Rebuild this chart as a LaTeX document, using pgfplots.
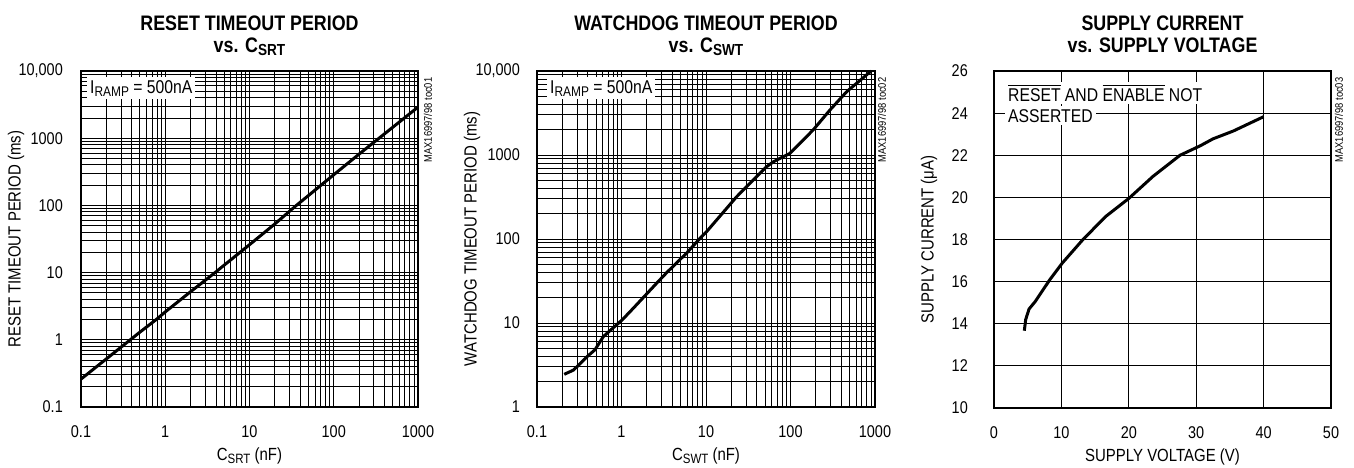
\documentclass[border=0pt]{standalone}
\usepackage{pgfplots}
\pgfplotsset{compat=1.18}
\usepackage{fontspec}
\setmainfont{Liberation Sans}[FakeStretch=0.85]
\newcommand\sub[2][13.5]{\raisebox{-3pt}{\fontsize{#1}{#1}\selectfont #2}}
\newcommand\ovl[1]{\setbox0\hbox{#1}\rlap{\raisebox{\dimexpr\ht0+2.5pt\relax}{\rule{\wd0}{0.9pt}}}\box0\relax}
\newcommand\tk{\fontsize{17}{17}\selectfont}
\newcommand\lb{\fontsize{17.6}{17.6}\selectfont}
\newcommand\an{\fontsize{18.5}{18.5}\selectfont}
\newcommand\ttl{\fontsize{21}{21}\selectfont\bfseries}
\newcommand\sm{\fontsize{11}{11}\selectfont}

\pgfplotsset{
  every axis/.append style={
    scale only axis, clip=false,
    axis line style={line width=2.6pt},
    major tick length=0pt, minor tick length=0pt,
    major grid style={black, line width=0.9pt},
    minor grid style={black, line width=0.9pt},
    xticklabel style={font=\tk, anchor=base, yshift=-30pt},
    yticklabel style={font=\tk, anchor=east, inner sep=0pt},
  },
}
\tikzset{mycurve/.style={black, line width=3pt, line join=round}}

\begin{document}
\begin{tikzpicture}
\useasboundingbox (0pt,0pt) rectangle (1354pt,467pt);

% ---------------- Panel 1 ----------------
\begin{axis}[xmode=log, ymode=log, grid=both,
  width=337pt, height=336pt, at={(81pt,60pt)}, anchor=south west,
  xmin=0.1, xmax=1000, ymin=0.1, ymax=10000,
  xtick={0.1,1,10,100,1000}, xticklabels={0.1,1,10,100,1000},
  minor xtick={0.2,0.3,0.4,0.5,0.6,0.7,0.8,0.9,2,3,4,5,6,7,8,9,20,30,40,50,60,70,80,90,200,300,400,500,600,700,800,900},
  ytick={0.1,1,10,100,1000,10000}, yticklabels={0.1,1,10,100,1000,{10,000}},
  minor ytick={0.2,0.3,0.4,0.5,0.6,0.7,0.8,0.9,2,3,4,5,6,7,8,9,20,30,40,50,60,70,80,90,200,300,400,500,600,700,800,900,2000,3000,4000,5000,6000,7000,8000,9000},
  yticklabel style={xshift=-18pt}]
\addplot[mycurve, no marks] coordinates {
(0.1,0.26) (0.2,0.52) (0.3,0.78) (0.5,1.3) (0.8,2.05) (1,2.6) (2,5.2) (3.9,10)
(5,12.9) (10,26) (20,53) (36,100) (50,140) (100,286) (200,580) (500,1450) (1000,2900)};
\node[anchor=north west, fill=white, inner sep=3pt, font=\an] at ([xshift=6pt,yshift=-6pt]rel axis cs:0,1) {I\sub[14]{RAMP} = 500nA};
\node[anchor=base, font=\ttl] at ([yshift=41pt]rel axis cs:0.5,1) {RESET TIMEOUT PERIOD};
\node[anchor=base, font=\ttl] at ([yshift=19pt]rel axis cs:0.5,1) {vs. C\sub[16]{SRT}};
\node[anchor=base, font=\lb] at ([yshift=-53pt]rel axis cs:0.5,0) {C\sub{SRT} (nF)};
\node[rotate=90, font=\lb] at ([xshift=-65pt]rel axis cs:0,0.5) {RESET TIMEOUT PERIOD (ms)};
\node[rotate=90, font=\sm] at ([xshift=10pt,yshift=-49pt]rel axis cs:1,1) {MAX16997/98 toc01};
\end{axis}

% ---------------- Panel 2 ----------------
\begin{axis}[xmode=log, ymode=log, grid=both,
  width=338pt, height=336pt, at={(537pt,60pt)}, anchor=south west,
  xmin=0.1, xmax=1000, ymin=1, ymax=10000,
  xtick={0.1,1,10,100,1000}, xticklabels={0.1,1,10,100,1000},
  minor xtick={0.2,0.3,0.4,0.5,0.6,0.7,0.8,0.9,2,3,4,5,6,7,8,9,20,30,40,50,60,70,80,90,200,300,400,500,600,700,800,900},
  ytick={1,10,100,1000,10000}, yticklabels={1,10,100,1000,{10,000}},
  minor ytick={2,3,4,5,6,7,8,9,20,30,40,50,60,70,80,90,200,300,400,500,600,700,800,900,2000,3000,4000,5000,6000,7000,8000,9000},
  yticklabel style={xshift=-17pt}]
\addplot[mycurve, no marks] coordinates {
(0.21,2.45) (0.27,2.75) (0.40,4.05) (0.485,4.8) (0.61,6.9) (1.02,10.9) (1.38,15)
(2.6,29.7) (3.4,39.5) (5.9,68) (8.5,102) (10,120) (23,318) (52,724) (62.6,830)
(98.6,1047) (186,1995) (293,3433) (462,5670) (900,10000)};
\node[anchor=north west, fill=white, inner sep=3pt, font=\an] at ([xshift=10pt,yshift=-6pt]rel axis cs:0,1) {I\sub[14]{RAMP} = 500nA};
\node[anchor=base, font=\ttl] at ([yshift=41pt]rel axis cs:0.5,1) {WATCHDOG TIMEOUT PERIOD};
\node[anchor=base, font=\ttl] at ([yshift=19pt]rel axis cs:0.5,1) {vs. C\sub[16]{SWT}};
\node[anchor=base, font=\lb] at ([yshift=-53pt]rel axis cs:0.5,0) {C\sub{SWT} (nF)};
\node[rotate=90, font=\lb] at ([xshift=-65pt]rel axis cs:0,0.5) {WATCHDOG TIMEOUT PERIOD (ms)};
\node[rotate=90, font=\sm] at ([xshift=7pt,yshift=-49pt]rel axis cs:1,1) {MAX16997/98 toc02};
\end{axis}

% ---------------- Panel 3 ----------------
\begin{axis}[width=337pt, height=337pt, at={(994pt,59pt)}, anchor=south west,
  grid=major,
  xmin=0, xmax=50, ymin=10, ymax=26,
  xtick={0,10,20,30,40,50}, xticklabels={0,10,20,30,40,50},
  ytick={10,12,14,16,18,20,22,24,26}, yticklabels={10,12,14,16,18,20,22,24,26},
  yticklabel style={xshift=-26pt}]
\addplot[mycurve, no marks] coordinates {
(4.5,13.67) (4.7,14.2) (5.2,14.7) (6.1,15.05) (8.3,16.1) (10.1,16.87) (13.2,18.0)
(16.6,19.1) (20,19.95) (23.6,21.0) (27.6,22.0) (30.6,22.45) (32.5,22.78) (35.5,23.15) (40,23.83)};
\node[anchor=base west, fill=white, inner sep=3pt, font=\an] at ([xshift=11pt,yshift=-30pt]rel axis cs:0,1) {\ovl{RESET} AND \ovl{ENABLE} NOT};
\node[anchor=base west, fill=white, inner sep=3pt, font=\an] at ([xshift=11pt,yshift=-51pt]rel axis cs:0,1) {ASSERTED};
\node[anchor=base, font=\ttl] at ([yshift=41pt]rel axis cs:0.5,1) {SUPPLY CURRENT};
\node[anchor=base, font=\ttl] at ([yshift=19pt]rel axis cs:0.5,1) {vs. SUPPLY VOLTAGE};
\node[anchor=base, font=\lb] at ([yshift=-53pt]rel axis cs:0.5,0) {SUPPLY VOLTAGE (V)};
\node[rotate=90, font=\lb] at ([xshift=-65pt]rel axis cs:0,0.5) {SUPPLY CURRENT (μA)};
\node[rotate=90, font=\sm] at ([xshift=8pt,yshift=-49pt]rel axis cs:1,1) {MAX16997/98 toc03};
\end{axis}
\end{tikzpicture}
\end{document}
